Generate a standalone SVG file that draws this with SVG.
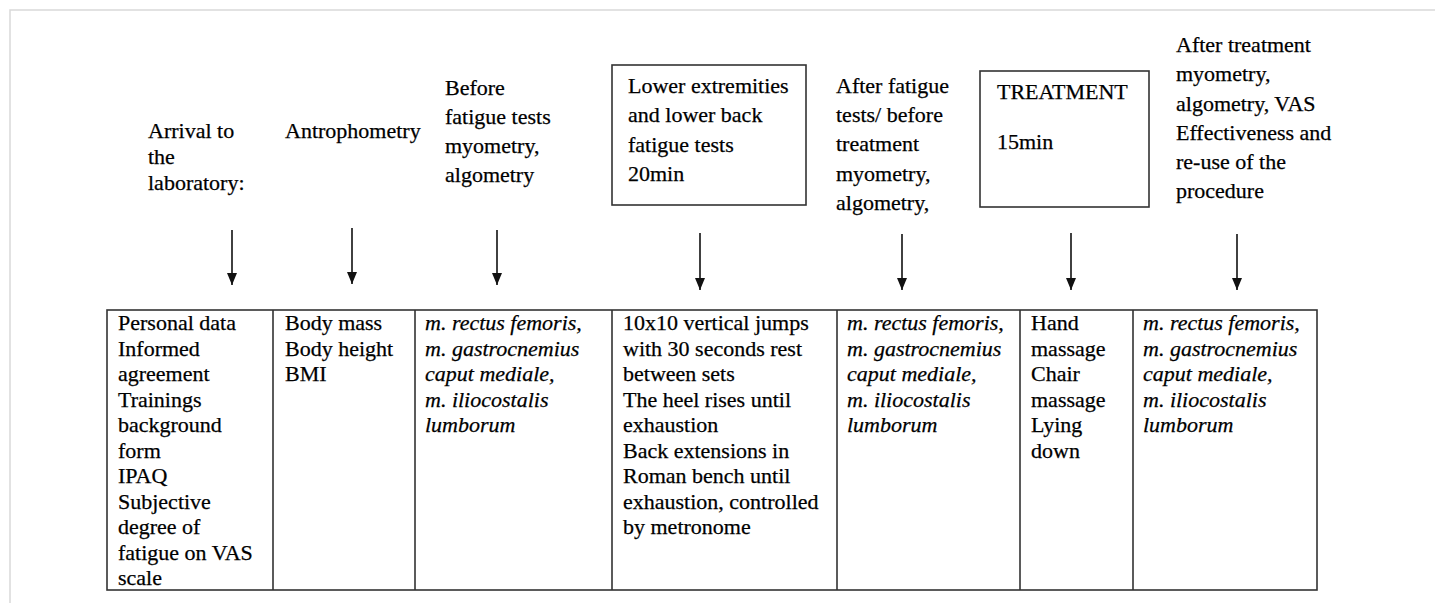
<svg xmlns="http://www.w3.org/2000/svg" width="1435" height="603" viewBox="0 0 1435 603">
<defs>
<marker id="ah" viewBox="0 0 12 10" refX="12" refY="5" markerWidth="12" markerHeight="10" markerUnits="userSpaceOnUse" orient="auto">
<path d="M0,0 L12,5 L0,10 Z" fill="#111"/>
</marker>
</defs>
<style>
.t { font-family: 'Liberation Serif', 'Times New Roman', Times, serif; font-size: 22px; fill: #000; stroke: #000; stroke-width: 0.25; }
.it { font-style: italic; }
.frame { stroke: #d9d9d9; stroke-width: 1.5; fill: none; }
.box { stroke: #333; stroke-width: 1.6; fill: #fff; }
.cell { stroke: #333; stroke-width: 1.6; fill: none; }
.arr { stroke: #111; stroke-width: 1.6; fill: none; }
</style>
<rect width="1435" height="603" fill="#fff"/>
<path class="frame" d="M10,603 L10,10 L1435,10"/>

<g class="t" font-family="Liberation Serif, serif">
<g id="label-arrival">
<text x="148" y="138">Arrival to<tspan x="148" y="164">the</tspan><tspan x="148" y="190">laboratory:</tspan></text>
</g>
<g id="label-antro">
<text x="285" y="138">Antrophometry</text>
</g>
<g id="label-before">
<text x="445" y="95">Before<tspan x="445" y="124">fatigue tests</tspan><tspan x="445" y="153">myometry,</tspan><tspan x="445" y="182">algometry</tspan></text>
</g>
<g id="box-fatigue">
<rect class="box" x="612" y="65" width="194" height="140"/>
<text x="628" y="93">Lower extremities<tspan x="628" y="122">and lower back</tspan><tspan x="628" y="152">fatigue tests</tspan><tspan x="628" y="181">20min</tspan></text>
</g>
<g id="label-after-fatigue">
<text x="836" y="93">After fatigue<tspan x="836" y="122">tests/ before</tspan><tspan x="836" y="151">treatment</tspan><tspan x="836" y="181">myometry,</tspan><tspan x="836" y="210">algometry,</tspan></text>
</g>
<g id="box-treatment">
<rect class="box" x="980" y="71" width="169" height="136"/>
<text x="997" y="99">TREATMENT</text>
<text x="997" y="149">15min</text>
</g>
<g id="label-after-treatment">
<text x="1176" y="52">After treatment<tspan x="1176" y="81">myometry,</tspan><tspan x="1176" y="111">algometry, VAS</tspan><tspan x="1176" y="140">Effectiveness and</tspan><tspan x="1176" y="169">re-use of the</tspan><tspan x="1176" y="198">procedure</tspan></text>
</g>

<g id="table">
<rect class="cell" x="107" y="310" width="1210" height="280"/>
<path class="cell" d="M273,310 V590 M415,310 V590 M612,310 V590 M837,310 V590 M1020,310 V590 M1133,310 V590"/>
</g>
<g id="cell-arrival">
<text x="118" y="330">Personal data<tspan x="118" y="355.5">Informed</tspan><tspan x="118" y="381">agreement</tspan><tspan x="118" y="406.5">Trainings</tspan><tspan x="118" y="432">background</tspan><tspan x="118" y="457.5">form</tspan><tspan x="118" y="483">IPAQ</tspan><tspan x="118" y="508.5">Subjective</tspan><tspan x="118" y="534">degree of</tspan><tspan x="118" y="559.5">fatigue on VAS</tspan><tspan x="118" y="585">scale</tspan></text>
</g>
<g id="cell-antro">
<text x="285" y="330">Body mass<tspan x="285" y="355.5">Body height</tspan><tspan x="285" y="381">BMI</tspan></text>
</g>
<g id="cell-before">
<text class="it" x="425" y="330">m. rectus femoris,<tspan x="425" y="355.5">m. gastrocnemius</tspan><tspan x="425" y="381">caput mediale,</tspan><tspan x="425" y="406.5">m. iliocostalis</tspan><tspan x="425" y="432">lumborum</tspan></text>
</g>
<g id="cell-fatigue">
<text x="623" y="330">10x10 vertical jumps<tspan x="623" y="355.5">with 30 seconds rest</tspan><tspan x="623" y="381">between sets</tspan><tspan x="623" y="406.5">The heel rises until</tspan><tspan x="623" y="432">exhaustion</tspan><tspan x="623" y="457.5">Back extensions in</tspan><tspan x="623" y="483">Roman bench until</tspan><tspan x="623" y="508.5">exhaustion, controlled</tspan><tspan x="623" y="534">by metronome</tspan></text>
</g>
<g id="cell-after-fatigue">
<text class="it" x="847" y="330">m. rectus femoris,<tspan x="847" y="355.5">m. gastrocnemius</tspan><tspan x="847" y="381">caput mediale,</tspan><tspan x="847" y="406.5">m. iliocostalis</tspan><tspan x="847" y="432">lumborum</tspan></text>
</g>
<g id="cell-treatment">
<text x="1031" y="330">Hand<tspan x="1031" y="355.5">massage</tspan><tspan x="1031" y="381">Chair</tspan><tspan x="1031" y="406.5">massage</tspan><tspan x="1031" y="432">Lying</tspan><tspan x="1031" y="457.5">down</tspan></text>
</g>
<g id="cell-after-treatment">
<text class="it" x="1143" y="330">m. rectus femoris,<tspan x="1143" y="355.5">m. gastrocnemius</tspan><tspan x="1143" y="381">caput mediale,</tspan><tspan x="1143" y="406.5">m. iliocostalis</tspan><tspan x="1143" y="432">lumborum</tspan></text>
</g>
</g>

<g id="connectors">
<line class="arr" x1="232" y1="230" x2="232" y2="285" marker-end="url(#ah)"/>
<line class="arr" x1="352" y1="228" x2="352" y2="284" marker-end="url(#ah)"/>
<line class="arr" x1="497" y1="230" x2="497" y2="285" marker-end="url(#ah)"/>
<line class="arr" x1="700" y1="233" x2="700" y2="290" marker-end="url(#ah)"/>
<line class="arr" x1="902" y1="234" x2="902" y2="290" marker-end="url(#ah)"/>
<line class="arr" x1="1071" y1="233" x2="1071" y2="290" marker-end="url(#ah)"/>
<line class="arr" x1="1237" y1="234" x2="1237" y2="290" marker-end="url(#ah)"/>
</g>
</svg>
